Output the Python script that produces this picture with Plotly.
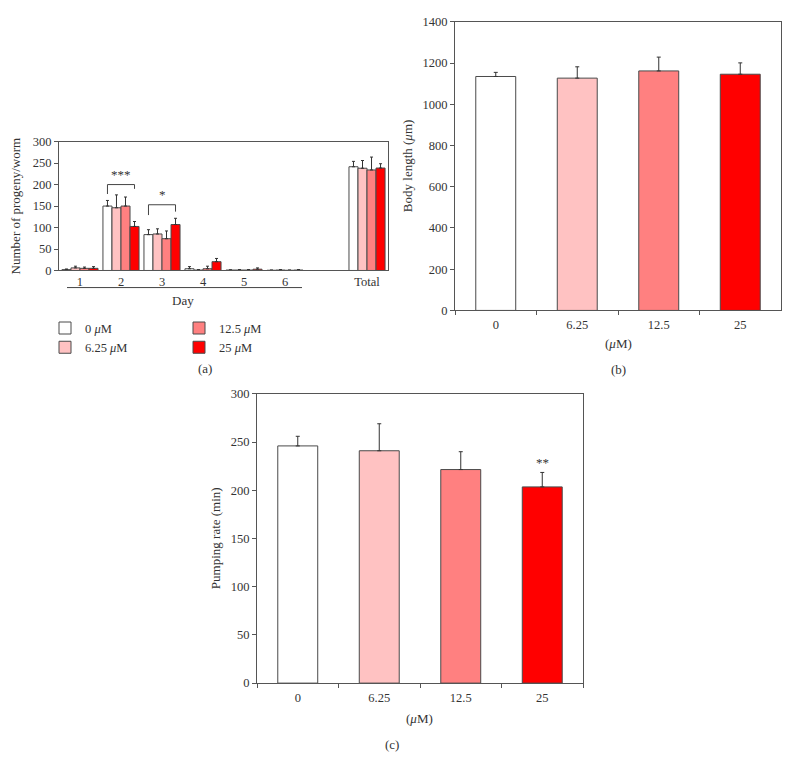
import plotly.graph_objects as go

# ---------------- data ----------------
days = ["1", "2", "3", "4", "5", "6", "Total"]
day_axis_order = ["1", "2", "3", "4", "5", "6", " ", "Total"]
conc_names = ["0 <i>μ</i>M", "6.25 <i>μ</i>M", "12.5 <i>μ</i>M", "25 <i>μ</i>M"]
conc_ticks = ["0", "6.25", "12.5", "25"]

progeny_0 = [2, 150, 83.5, 4, 1, 0.5, 241.5]
progeny_0_err = [1.5, 13, 11.5, 5, 0.5, 0.5, 12.5]
progeny_625 = [6, 146, 85, 1, 1, 1, 238]
progeny_625_err = [4, 30, 12, 1, 1, 1, 18]
progeny_125 = [5, 150, 74, 4, 1, 0.5, 234]
progeny_125_err = [3, 21, 18, 6, 1, 0.5, 30]
progeny_25 = [5, 102.5, 107, 20.5, 3, 1, 238.5]
progeny_25_err = [4, 11.5, 14.5, 7.5, 3, 1, 10]

body_length = [1135, 1127, 1162, 1146]
body_length_err = [20, 55, 67, 55]

pumping_rate = [246, 241, 221.5, 203.5]
pumping_rate_err = [10, 28, 18.5, 15]

# ---------------- style ----------------
colors = ["#FFFFFF", "#FFC2C2", "#FF8080", "#FF0000"]
edge = "#4a4a4a"
axis_col = "#555555"
FONT = "Liberation Serif"
OFF = 8                       # default page body margin
W, H = 790 - OFF, 765 - OFF   # figure size so the page is exactly 790x765


def px_x(v):
    return (v - OFF) / W


def px_y(v):
    return 1 - (v - OFF) / H


fig = go.Figure()

prog_series = [
    (progeny_0, progeny_0_err),
    (progeny_625, progeny_625_err),
    (progeny_125, progeny_125_err),
    (progeny_25, progeny_25_err),
]
for i, (vals, errs) in enumerate(prog_series):
    fig.add_trace(go.Bar(
        x=days, y=vals, name=conc_names[i],
        marker=dict(color=colors[i], line=dict(color=edge, width=1)),
        error_y=dict(type="data", array=errs, arrayminus=[0] * len(errs),
                     symmetric=False, color="#333333", thickness=1, width=1.5),
        xaxis="x", yaxis="y",
        legend="legend" if i < 2 else "legend2",
    ))

fig.add_trace(go.Bar(
    x=conc_ticks, y=body_length, showlegend=False, width=0.49,
    marker=dict(color=colors, line=dict(color=edge, width=1)),
    error_y=dict(type="data", array=body_length_err, arrayminus=[0] * 4,
                 symmetric=False, color="#333333", thickness=1, width=2),
    xaxis="x2", yaxis="y2",
))

fig.add_trace(go.Bar(
    x=conc_ticks, y=pumping_rate, showlegend=False, width=0.49,
    marker=dict(color=colors, line=dict(color=edge, width=1)),
    error_y=dict(type="data", array=pumping_rate_err, arrayminus=[0] * 4,
                 symmetric=False, color="#333333", thickness=1, width=2),
    xaxis="x3", yaxis="y3",
))

axis_common = dict(showline=True, linecolor=axis_col, linewidth=1, mirror=True,
                   showgrid=False, zeroline=False,
                   tickfont=dict(family=FONT, size=12.5, color="#333333"))

legend_style = dict(xanchor="left", yanchor="top", bgcolor="rgba(0,0,0,0)",
                    font=dict(family=FONT, size=12.5, color="#333333"),
                    tracegroupgap=0, itemclick=False, itemdoubleclick=False)

fig.update_layout(
    width=W, height=H,
    margin=dict(l=0, r=0, t=0, b=0),
    paper_bgcolor="white", plot_bgcolor="white",
    font=dict(family=FONT, size=12, color="#333333"),
    barmode="group", bargap=0.12, bargroupgap=0,
    xaxis=dict(domain=[px_x(59), px_x(388)], anchor="y", type="category",
               categoryorder="array", categoryarray=day_axis_order,
               range=[-0.512, 7.512], ticks="", **axis_common),
    yaxis=dict(domain=[px_y(268.3), px_y(137)], anchor="x", range=[0, 300],
               dtick=50, ticks="outside", ticklen=4, tickcolor=axis_col,
               **axis_common),
    xaxis2=dict(domain=[px_x(455), px_x(781)], anchor="y2", type="category",
                range=[-0.5, 3.5], ticks="outside", ticklen=4, tickcolor=axis_col,
                tickson="boundaries", ticklabelstandoff=3, **axis_common),
    yaxis2=dict(domain=[px_y(309), px_y(15)], anchor="x2", range=[0, 1400],
                dtick=200, ticks="outside", ticklen=4, tickcolor=axis_col,
                **axis_common),
    xaxis3=dict(domain=[px_x(257), px_x(583)], anchor="y3", type="category",
                range=[-0.5, 3.5], ticks="outside", ticklen=4, tickcolor=axis_col,
                tickson="boundaries", ticklabelstandoff=3, **axis_common),
    yaxis3=dict(domain=[px_y(688.7), px_y(394)], anchor="x3", range=[0, 300],
                dtick=50, ticks="outside", ticklen=4, tickcolor=axis_col,
                **axis_common),
    legend=dict(x=px_x(45), y=px_y(312), **legend_style),
    legend2=dict(x=px_x(179), y=px_y(312), **legend_style),
)

# significance brackets on panel (a)
barw = (1 - 0.12) / 4
shapes = []
for idx, ytop, yl, yr in [(1, 200, 178, 190), (2, 153, 129, 137)]:
    xl = idx - 1.5 * barw
    xr = idx + 1.5 * barw
    shapes.append(dict(type="path", xref="x", yref="y",
                       path=f"M {xl},{yl} L {xl},{ytop} L {xr},{ytop} L {xr},{yr}",
                       line=dict(color="#444444", width=1)))
# "Day" underline
shapes.append(dict(type="line", xref="paper", yref="paper",
                   x0=px_x(67), x1=px_x(302), y0=px_y(285.7), y1=px_y(285.7),
                   line=dict(color="#444444", width=1)))
fig.update_layout(shapes=shapes)

ann = []
ann.append(dict(x=1, y=201, xref="x", yref="y", text="***", showarrow=False,
                yanchor="bottom", font=dict(size=13)))
ann.append(dict(x=2, y=154, xref="x", yref="y", text="*", showarrow=False,
                yanchor="bottom", font=dict(size=13)))
ann.append(dict(x=3, y=pumping_rate[3] + pumping_rate_err[3] + 0, xref="x3", yref="y3",
                text="**", showarrow=False, yanchor="bottom", font=dict(size=13)))

text_items = [
    ("Number of progeny/worm", 15, 203, -90),
    ("Day", 183, 299, 0),
    ("(a)", 205, 368, 0),
    ("Body length (<i>μ</i>m)", 407, 162, -90),
    ("(<i>μ</i>M)", 618, 343, 0),
    ("(b)", 618, 369, 0),
    ("Pumping rate (min)", 215, 541, -90),
    ("(<i>μ</i>M)", 420, 725, 0),
    ("(c)", 392, 751, 0),
]
for t, xx, yy, ang in text_items:
    ann.append(dict(x=px_x(xx), y=px_y(yy), xref="paper", yref="paper", text=t,
                    showarrow=False, textangle=ang, xanchor="center", yanchor="middle",
                    font=dict(family=FONT, size=13, color="#333333")))
fig.update_layout(annotations=ann)

fig.write_html("out.html")
